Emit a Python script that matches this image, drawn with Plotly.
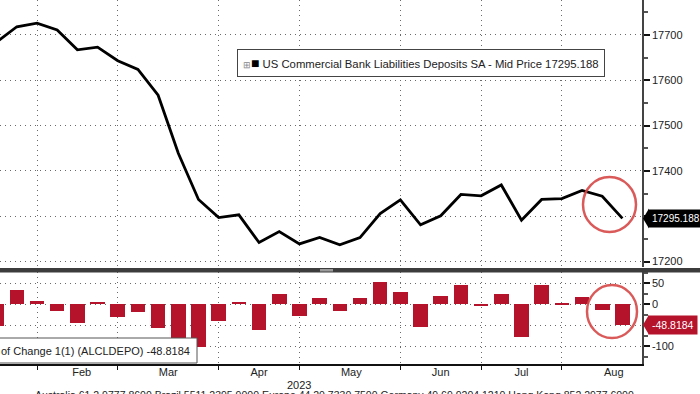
import plotly.graph_objects as go

# ---------------- data ----------------
dates = [
    "2023-01-18", "2023-01-25", "2023-02-01", "2023-02-08", "2023-02-15", "2023-02-22",
    "2023-03-01", "2023-03-08", "2023-03-15", "2023-03-22", "2023-03-29", "2023-04-05",
    "2023-04-12", "2023-04-19", "2023-04-26", "2023-05-03", "2023-05-10", "2023-05-17",
    "2023-05-24", "2023-05-31", "2023-06-07", "2023-06-14", "2023-06-21", "2023-06-28",
    "2023-07-05", "2023-07-12", "2023-07-19", "2023-07-26", "2023-08-02", "2023-08-09",
    "2023-08-16", "2023-08-23",
]
deposits = [
    17684, 17718, 17726, 17711, 17667, 17673,
    17643, 17624, 17567, 17439, 17337, 17297,
    17303, 17242, 17266, 17239, 17253, 17237,
    17253, 17306, 17336, 17281, 17301, 17348,
    17345, 17369, 17291, 17337, 17339, 17357,
    17344, 17295.188,
]
weekly_change = [
    -52, 34, 8, -15, -44, 6,
    -30, -19, -57, -128, -102, -40,
    6, -61, 24, -27, 14, -16,
    16, 53, 30, -55, 20, 47,
    -3, 24, -78, 46, 2, 18,
    -13, -48.8184,
]
month_grid_dates = ["2023-02-01", "2023-03-01", "2023-04-05", "2023-05-03",
                    "2023-06-07", "2023-07-05", "2023-08-02"]
month_label_dates = ["2023-01-18", "2023-02-16 12:00", "2023-03-18 12:00", "2023-04-19",
                     "2023-05-21", "2023-06-21", "2023-07-19", "2023-08-20"]
month_labels = ["Jan", "Feb", "Mar", "Apr", "May", "Jun", "Jul", "Aug"]
top_ticks = [17200, 17300, 17400, 17500, 17600, 17700]
top_ticktext = ["17200", "", "17400", "17500", "17600", "17700"]
bot_ticks = [-100, -50, 0, 50]
bot_ticktext = ["-100", "", "0", "50"]
last_level = "17295.188"
last_change = "-48.8184"
series_name = "US Commercial Bank Liabilities Deposits SA - Mid Price"
change_name = "of Change 1(1) (ALCLDEPO)"
year_label = "2023"
footer = ("Australia 61 2 9777 8600 Brazil 5511 2395 9000 Europe 44 20 7330 7500 "
          "Germany 49 69 9204 1210 Hong Kong 852 2977 6000")

# ---------------- layout helpers ----------------
W, H = 700, 394
PL, PR, PB = 0, 642, 364          # plot area pixels
def px(x):
    return (x - PL) / (PR - PL)
def py(y):
    return (PB - y) / PB

FONT = "Liberation Sans, Arial, sans-serif"
RED = "#B5122B"
GRID = "#6a6a6a"
DASH = "1px,4px"

fig = go.Figure()
fig.add_trace(go.Scatter(x=dates, y=deposits, mode="lines",
                         line=dict(color="black", width=2.8),
                         xaxis="x", yaxis="y", showlegend=False))
fig.add_trace(go.Bar(x=dates, y=weekly_change, marker=dict(color=RED, line=dict(width=0)),
                     width=0.72 * 7 * 24 * 3600 * 1000,
                     xaxis="x2", yaxis="y2", showlegend=False))

xrange = ["2023-01-19 04:00", "2023-08-29 19:00"]
top_dom = [py(267), 1.0]
bot_dom = [0.0, py(272)]

fig.update_layout(
    width=W, height=H,
    margin=dict(l=PL, r=W - PR, t=0, b=H - PB, autoexpand=False),
    paper_bgcolor="white", plot_bgcolor="white",
    font=dict(family=FONT, size=11, color="#222"),
    bargap=0,
    xaxis=dict(type="date", range=xrange, domain=[0, 1], anchor="y",
               tickmode="array", tickvals=month_grid_dates, showticklabels=False,
               showgrid=True, gridcolor=GRID, griddash=DASH, gridwidth=1,
               zeroline=False, showline=False, ticks=""),
    yaxis=dict(domain=top_dom, anchor="x", side="right", range=[17188, 17777],
               tickmode="array", tickvals=top_ticks, ticktext=top_ticktext,
               showgrid=True, gridcolor=GRID, griddash=DASH, gridwidth=1,
               zeroline=False, showline=True, linecolor="#444", linewidth=1.5,
               ticks="outside", ticklen=6, tickwidth=2, tickcolor="#111",
               minor=dict(dtick=50, ticks="outside", ticklen=4, tickcolor="#555",
                          showgrid=False),
               tickfont=dict(size=11, color="#222")),
    xaxis2=dict(type="date", range=xrange, domain=[0, 1], anchor="y2",
                tickmode="array", tickvals=month_label_dates, ticktext=month_labels,
                showgrid=False, zeroline=False, showline=True, linecolor="#111",
                linewidth=1.5, ticks="", ticklabelstandoff=-3,
                minor=dict(tickmode="array", tickvals=month_grid_dates, showgrid=True,
                           gridcolor=GRID, griddash=DASH, gridwidth=1,
                           ticks="outside", ticklen=4, tickcolor="#111", tickwidth=1),
                tickfont=dict(size=11, color="#222")),
    yaxis2=dict(domain=bot_dom, anchor="x2", side="right", range=[-142, 77],
                tickmode="array", tickvals=bot_ticks, ticktext=bot_ticktext,
                showgrid=True, gridcolor=GRID, griddash=DASH, gridwidth=1,
                zeroline=False, showline=True, linecolor="#444", linewidth=1.5,
                ticks="outside", ticklen=6, tickwidth=2, tickcolor="#111",
                minor=dict(dtick=25, ticks="outside", ticklen=4, tickcolor="#555",
                           showgrid=False),
                tickfont=dict(size=11, color="#222")),
)

shapes = []
# panel separator
shapes.append(dict(type="rect", xref="paper", yref="paper", x0=-0.01, x1=W / PR + 0.01,
                   y0=py(272.5), y1=py(268), fillcolor="#3c3c3c", line=dict(width=0),
                   layer="above"))
shapes.append(dict(type="rect", xref="paper", yref="paper", x0=px(320), x1=px(333),
                   y0=py(271.5), y1=py(269), fillcolor="#9a9a9a", line=dict(width=0),
                   layer="above"))
# bottom legend box (cut at the left)
shapes.append(dict(type="rect", xref="paper", yref="paper", x0=px(-8), x1=px(197),
                   y0=py(363), y1=py(338), fillcolor="white",
                   line=dict(color="#555", width=1), layer="above"))
# red highlight circles
shapes.append(dict(type="circle", xref="paper", yref="paper", x0=px(583), x1=px(636),
                   y0=py(232), y1=py(177), line=dict(color="rgba(214,72,72,0.9)", width=2.5),
                   layer="above"))
shapes.append(dict(type="circle", xref="paper", yref="paper", x0=px(587), x1=px(637),
                   y0=py(338), y1=py(285), line=dict(color="rgba(214,72,72,0.9)", width=2.5),
                   layer="above"))
# tag pointers
shapes.append(dict(type="path", xref="paper", yref="y", xsizemode="pixel", ysizemode="pixel",
                   xanchor=1, yanchor=deposits[-1], path="M 1 0 L 7 10 L 7 -10 Z",
                   fillcolor="black", line=dict(width=0), layer="above"))
shapes.append(dict(type="path", xref="paper", yref="y2", xsizemode="pixel", ysizemode="pixel",
                   xanchor=1, yanchor=weekly_change[-1], path="M 1 0 L 7 10 L 7 -10 Z",
                   fillcolor=RED, line=dict(width=0), layer="above"))
fig.update_layout(shapes=shapes)

ann = []
ann.append(dict(xref="paper", yref="y", x=1, xshift=6, xanchor="left", y=deposits[-1],
                text=last_level, showarrow=False, bgcolor="black",
                font=dict(color="white", size=10, family=FONT), borderpad=3))
ann.append(dict(xref="paper", yref="y2", x=1, xshift=6, xanchor="left", y=weekly_change[-1],
                text=last_change, showarrow=False, bgcolor=RED,
                font=dict(color="white", size=10.5, family=FONT), borderpad=3))
ann.append(dict(xref="paper", yref="paper", x=px(420.5), y=py(63), xanchor="center",
                yanchor="middle", showarrow=False, bgcolor="white", bordercolor="#444",
                borderwidth=1, borderpad=5,
                text=("<span style='color:#888;font-size:9px'>⊞</span>"
                      "<span style='font-size:14px;color:#000'>■</span> "
                      + series_name + " " + last_level),
                font=dict(size=11.3, color="#222", family=FONT)))
ann.append(dict(xref="paper", yref="paper", x=px(192), y=py(350.5), xanchor="right",
                yanchor="middle", showarrow=False, text=change_name + " " + last_change,
                font=dict(size=11, color="#222", family=FONT)))
ann.append(dict(xref="x2", yref="paper", x="2023-05-03", y=py(384.5), xanchor="center",
                yanchor="middle", showarrow=False, text=year_label,
                font=dict(size=11, color="#222", family=FONT)))
ann.append(dict(xref="paper", yref="paper", x=px(33), y=py(387), xanchor="left",
                yanchor="top", showarrow=False, text=footer,
                font=dict(size=10.5, color="#222", family=FONT)))
fig.update_layout(annotations=ann)

fig.write_html("out.html", config={"displayModeBar": False},
               post_script="document.body.style.margin='0';document.body.style.padding='0';")
